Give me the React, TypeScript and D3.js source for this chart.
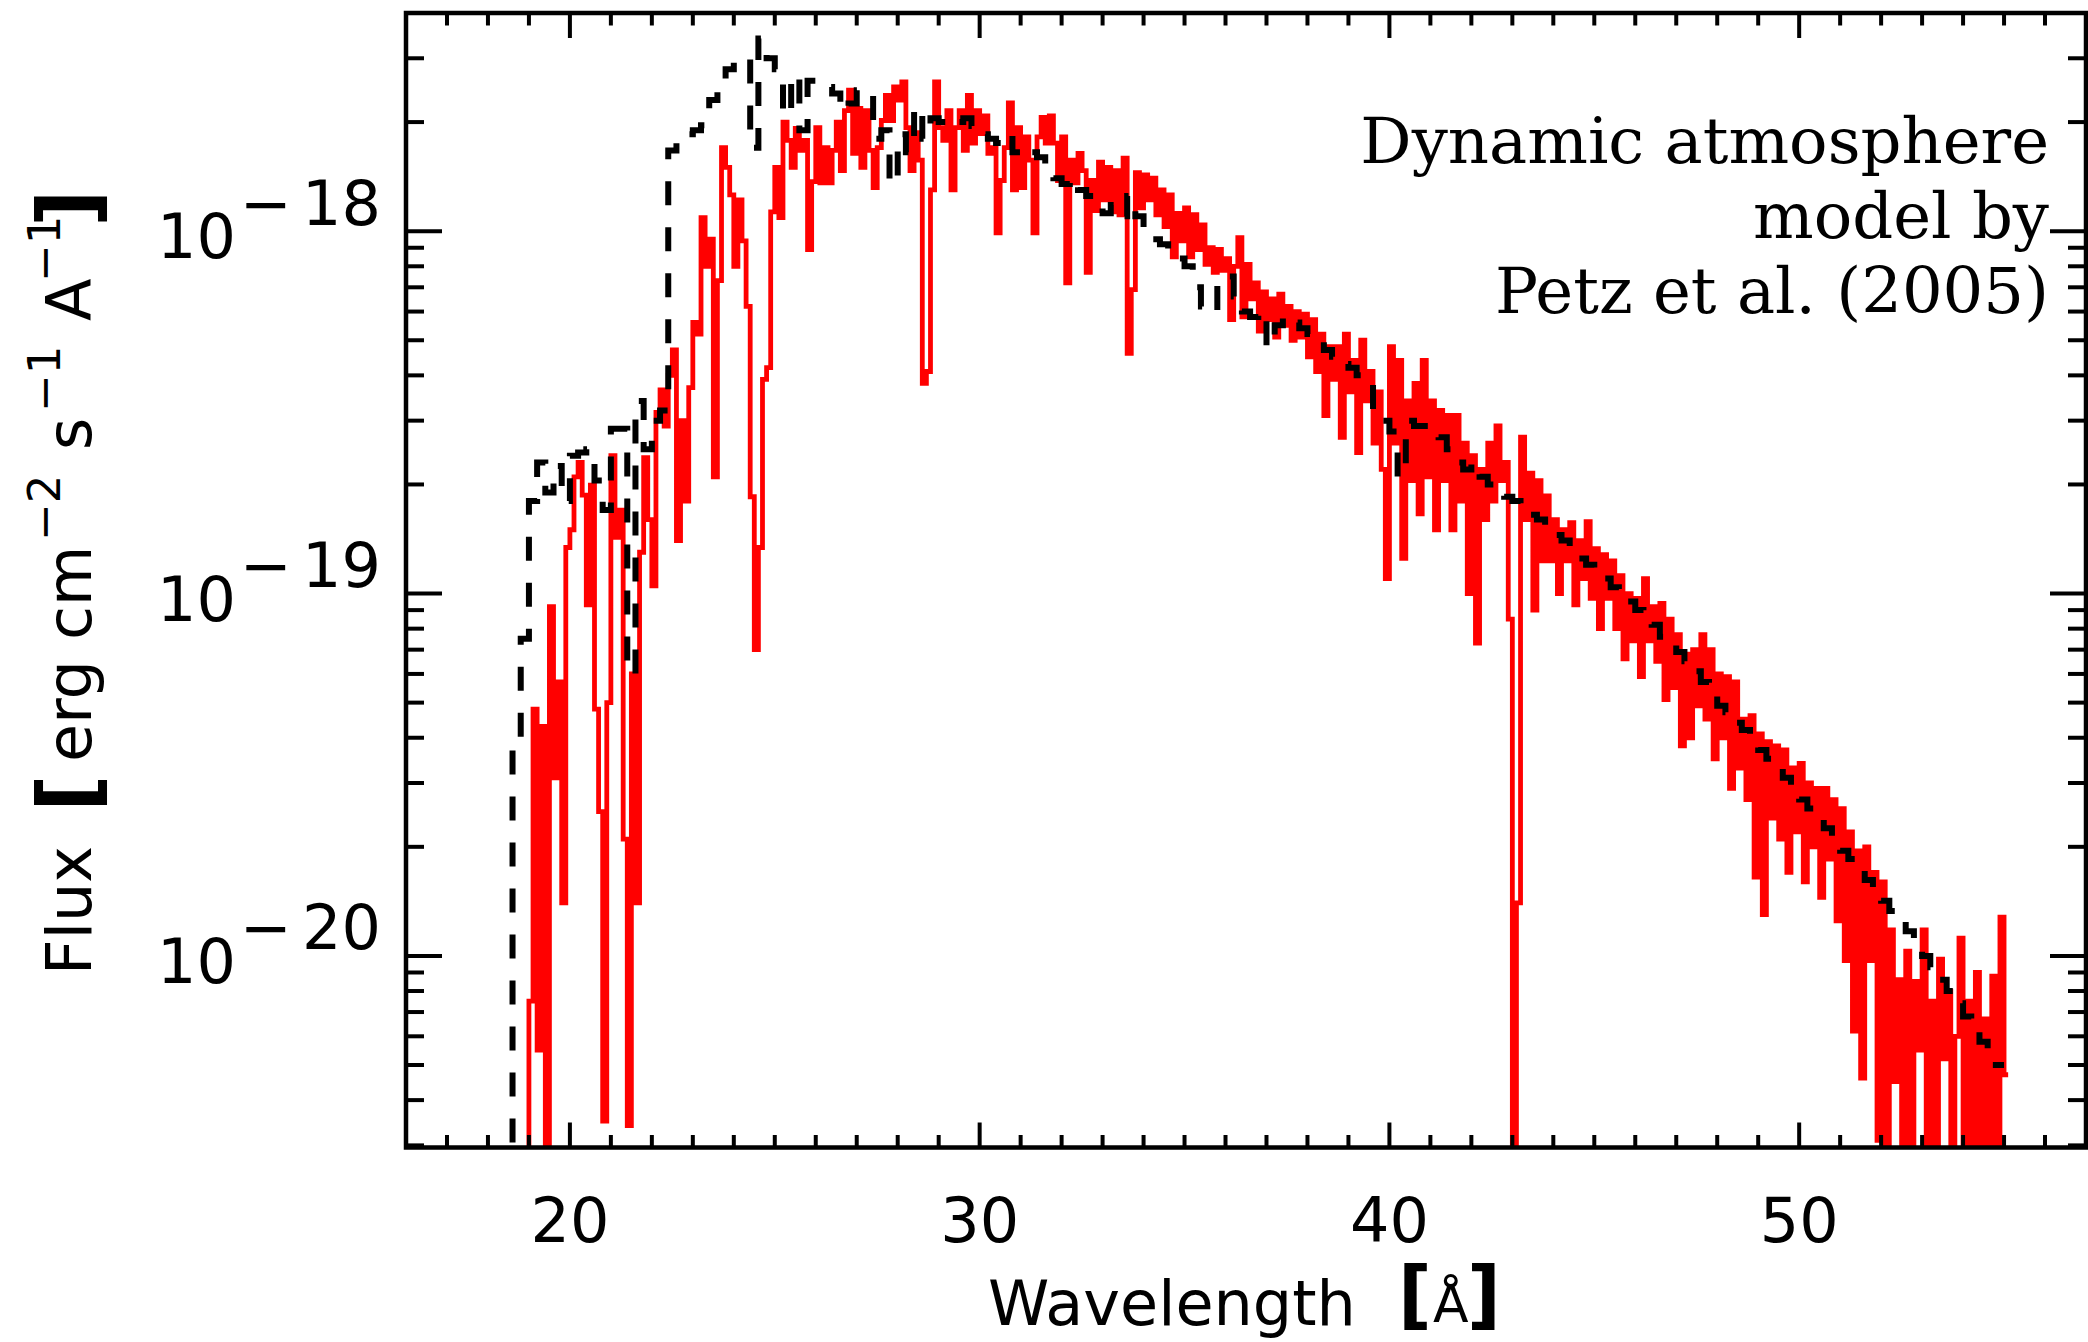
import React from 'react';
import * as d3 from 'd3';

// ---------------- data (flux in units of 1e-20 erg cm^-2 s^-1 A^-1) ----------------
const FLUX_UNIT = 1e-20;

// observed spectrum (red histogram), bins of 0.1 A starting at 18.9 A
const OBS_START = 18.9;
const OBS_BIN = 0.1;
const obsFlux = [
  0.1,
  0.75, 4.8, 0.55, 4.3, 0.15, 9.2, 3.1, 5.7, 1.4, 13.4,
  15, 21, 23, 18.7, 9.3, 19.9, 4.8, 2.5, 0.35, 5.0,
  24, 14.3, 17, 2.1, 0.34, 6.0, 1.4, 13, 23.7, 16,
  10.5, 31.6, 36.5, 29, 40, 47, 14, 30, 18, 37,
  56, 52, 109, 80, 95, 21, 73, 170, 150, 126,
  80, 122, 94, 62, 18.5, 7.0, 13.4, 39, 42, 113,
  150, 109, 200, 178, 150, 192, 167, 178, 89, 137,
  193, 136, 170, 136, 167, 200, 147, 215, 245, 164,
  218, 150, 215, 167, 132, 170, 202, 237, 202, 250,
  230, 258, 193, 147, 187, 157, 38, 41, 130, 258,
  193, 178, 215, 130, 193, 215, 167, 237, 175, 215,
  186, 208, 164, 170, 99, 138, 170, 226, 130, 193,
  132, 182, 157, 99, 182, 206, 175, 208, 175, 138,
  182, 72, 157, 136, 164, 147, 77, 138, 114, 155,
  122, 150, 113, 147, 111, 159, 46, 69, 145, 116,
  143, 122, 140, 111, 130, 103, 126, 85, 112, 94,
  116, 85, 111, 89, 104, 81, 90, 77, 89, 78,
  84, 57, 80, 96, 58, 81, 65, 72, 53, 68,
  57, 65, 51, 67, 55, 62, 50, 60, 51, 59,
  45, 57, 41, 52, 31, 48, 39, 48, 27, 52,
  36, 44, 24.5, 50, 34, 41, 26, 36, 22, 11,
  48, 26, 44, 12.5, 34, 20.5, 38, 16.6, 44, 21,
  34, 15, 32, 20.5, 31, 15, 31, 18, 26, 10,
  24, 7.3, 22, 16, 26, 18, 29, 20.5, 23, 8.5,
  0.2, 1.4, 27, 16, 21.5, 9, 20.5, 12.3, 18.6, 12.3,
  16, 10, 15, 12.3, 15.7, 9.3, 14, 11, 15.8, 9.7,
  13.3, 8, 12.8, 9.7, 12.3, 8, 11.2, 6.6, 10, 7.4,
  9.7, 5.9, 11, 7.4, 9.2, 6.5, 9.4, 5.1, 8.5, 5.5,
  7.7, 3.8, 6.8, 4.0, 7.0, 4.9, 7.7, 4.5, 7.0, 3.5,
  6.0, 4.0, 5.9, 2.9, 5.7, 3.3, 4.5, 2.7, 4.6, 1.65,
  4.1, 1.3, 3.9, 2.4, 3.8, 2.1, 3.7, 1.7, 3.3, 2.2,
  3.4, 1.6, 3.0, 2.0, 2.9, 1.45, 2.9, 1.85, 2.7, 1.25,
  2.55, 0.97, 2.2, 0.62, 1.95, 0.46, 2.0, 0.97, 1.7, 0.31,
  1.6, 0.2, 1.18, 0.45, 0.86, 0.2, 1.03, 0.25, 0.85, 0.55,
  1.18, 0.2, 0.75, 0.3, 0.98, 0.52, 0.8, 0.2, 0.6, 1.12,
  0.22, 0.75, 0.25, 0.9, 0.2, 0.67, 0.25, 0.88, 0.3, 1.28,
  0.47,
];

// dynamic atmosphere model (black dashed histogram), bins of 0.2 A starting at 18.4 A
const MODEL_START = 18.4;
const MODEL_BIN = 0.2;
const modelFlux = [
  0.1, 3.7, 7.5, 18, 23, 19, 22.5, 18,
  24, 24.5, 25, 20.5, 17,
  28.5, 28.5, 6, 34, 25,
  30, 32, 167, 178, 185,
  190, 196, 230, 260, 280,
  293, 300, 170, 340, 300,
  280, 209, 270, 190, 260,
  255, 250, 240, 215, 225,
  245, 245, 180, 190, 135,
  185, 165, 220, 180, 205,
  200, 205, 200, 205, 195,
  185, 180, 175, 185, 165,
  160, 165, 160, 150, 140,
  135, 140, 130, 125, 120,
  112, 118, 110, 125, 110,
  100, 95, 92, 88, 84,
  80, 70, 62, 60, 72,
  75, 66, 60, 58, 60,
  48, 55, 58, 56, 54,
  52, 50, 47, 45, 43,
  42, 40, 38, 31, 30,
  28, 21, 30, 29, 29,
  28, 27, 25, 23, 22,
  23, 21, 20, 19, 18.5,
  18, 17.5, 16.5, 16, 15,
  14.5, 14, 13.2, 12.5, 12,
  11.5, 11, 10.4, 10, 9.5,
  9.0, 8.5, 8.2, 7.6, 7.2,
  6.9, 6.5, 6.1, 5.7, 5.3,
  4.9, 4.7, 4.4, 4.2, 3.9,
  3.7, 3.5, 3.3, 3.1, 2.9,
  2.7, 2.55, 2.4, 2.25, 2.1,
  1.95, 1.85, 1.75, 1.62, 1.5,
  1.42, 1.33, 1.25, 1.17, 1.08,
  1.0, 0.93, 0.86, 0.8, 0.74,
  0.68, 0.63, 0.58, 0.54, 0.5,
];

const X_DOMAIN = [16, 57];
const Y_DOMAIN = [2.96e-21, 4.0e-18];
const xMajorTicks = [20, 30, 40, 50];
const yDecades = [-18, -19, -20];
const annotationLines = ['Dynamic atmosphere', 'model by', 'Petz et al. (2005)'];

// ---------------- layout ----------------
const W = 2088;
const H = 1342;
const P = { left: 406, right: 2086, top: 13, bottom: 1147.5 };
const SANS = '"DejaVu Sans", sans-serif';
const SERIF = '"DejaVu Serif", serif';

function histPoints(start: number, bin: number, vals: number[]) {
  const pts: [number, number][] = vals.map((v, i) => [start + i * bin, v * FLUX_UNIT]);
  pts.push([start + vals.length * bin, vals[vals.length - 1] * FLUX_UNIT]);
  return pts;
}

export default function App() {
  const x = d3.scaleLinear().domain(X_DOMAIN).range([P.left, P.right]);
  const y = d3.scaleLog().domain(Y_DOMAIN).range([P.bottom, P.top]);

  const line = d3
    .line<[number, number]>()
    .x((d) => x(d[0]))
    .y((d) => y(d[1]))
    .curve(d3.curveStepAfter);

  const obsPath = line(histPoints(OBS_START, OBS_BIN, obsFlux)) || '';
  const modelPath = line(histPoints(MODEL_START, MODEL_BIN, modelFlux)) || '';

  const xMinor = d3.range(Math.ceil(X_DOMAIN[0]) + 1, X_DOMAIN[1]).filter((v) => !xMajorTicks.includes(v));
  const isDecade = (v: number) => Math.abs(Math.log10(v) - Math.round(Math.log10(v))) < 1e-6;
  const yAll = y.ticks();
  const yMinor = yAll.filter((v) => !isDecade(v) && v >= Y_DOMAIN[0] && v <= Y_DOMAIN[1]);

  const XMAJ = 25, XMIN = 12.5, YMAJ = 36, YMIN = 18;

  return (
    <svg
      width={W}
      height={H}
      viewBox={`0 0 ${W} ${H}`}
      style={{ position: 'absolute', left: 0, top: 0, display: 'block', background: '#fff' }}
    >
      <rect x={0} y={0} width={W} height={H} fill="#fff" />
      <defs>
        <clipPath id="plotclip">
          <rect x={P.left} y={P.top} width={P.right - P.left} height={P.bottom - P.top} />
        </clipPath>
      </defs>

      <g clipPath="url(#plotclip)">
        <path d={obsPath} fill="none" stroke="#ff0000" strokeWidth={4.8} strokeLinejoin="miter" />
        <path d={modelPath} fill="none" stroke="#000" strokeWidth={6} strokeDasharray="24 22" />
      </g>

      {/* frame */}
      <rect
        x={P.left}
        y={P.top}
        width={P.right - P.left}
        height={P.bottom - P.top}
        fill="none"
        stroke="#000"
        strokeWidth={4.5}
      />

      {/* x ticks (bottom & top) */}
      {xMajorTicks.map((v) => (
        <g key={'xM' + v} stroke="#000" strokeWidth={4}>
          <line x1={x(v)} x2={x(v)} y1={P.bottom} y2={P.bottom - XMAJ} />
          <line x1={x(v)} x2={x(v)} y1={P.top} y2={P.top + XMAJ} />
        </g>
      ))}
      {xMinor.map((v) => (
        <g key={'xm' + v} stroke="#000" strokeWidth={4}>
          <line x1={x(v)} x2={x(v)} y1={P.bottom} y2={P.bottom - XMIN} />
          <line x1={x(v)} x2={x(v)} y1={P.top} y2={P.top + XMIN} />
        </g>
      ))}

      {/* y ticks (left & right) */}
      {yDecades.map((e) => {
        const yy = y(Math.pow(10, e));
        return (
          <g key={'yM' + e} stroke="#000" strokeWidth={4}>
            <line x1={P.left} x2={P.left + YMAJ} y1={yy} y2={yy} />
            <line x1={P.right} x2={P.right - YMAJ} y1={yy} y2={yy} />
          </g>
        );
      })}
      {yMinor.map((v, i) => {
        const yy = y(v);
        return (
          <g key={'ym' + i} stroke="#000" strokeWidth={4}>
            <line x1={P.left} x2={P.left + YMIN} y1={yy} y2={yy} />
            <line x1={P.right} x2={P.right - YMIN} y1={yy} y2={yy} />
          </g>
        );
      })}

      {/* x tick labels */}
      {xMajorTicks.map((v) => (
        <text key={'xl' + v} x={x(v)} y={1241.5} textAnchor="middle" fontFamily={SANS} fontSize={62} fill="#000">
          {v}
        </text>
      ))}

      {/* y tick labels: 10^-n */}
      {yDecades.map((e) => {
        const yy = y(Math.pow(10, e));
        return (
          <g key={'yl' + e} fontFamily={SANS} fontSize={62} fill="#000">
            <text x={236} y={yy + 27} textAnchor="end">10</text>
            <text x={240} y={yy - 6.5}>{'\u2212'}</text>
            <text x={381} y={yy - 6.5} textAnchor="end">{String(Math.abs(e))}</text>
          </g>
        );
      })}

      {/* x axis title */}
      <g fontFamily={SANS} fill="#000">
        <text x={988} y={1325} fontSize={62}>Wavelength</text>
        <text x={1398} y={1320} fontSize={74} fontWeight="bold">[</text>
        <text x={1433} y={1322} fontSize={52}>{'\u00C5'}</text>
        <text x={1467} y={1320} fontSize={74} fontWeight="bold">]</text>
      </g>

      {/* y axis title */}
      <g transform="translate(91,969) rotate(-90)" fontFamily={SANS} fill="#000">
        <text x={-6} y={0} fontSize={62}>Flux</text>
        <text x={157} y={5} fontSize={82} fontWeight="bold">[</text>
        <text x={207} y={0} fontSize={62}>erg</text>
        <text x={329} y={0} fontSize={62}>cm</text>
        <text x={428} y={-31} fontSize={45}>{'\u22122'}</text>
        <text x={519} y={0} fontSize={62}>s</text>
        <text x={557} y={-31} fontSize={45}>{'\u22121'}</text>
        <text x={648} y={0} fontSize={62}>A</text>
        <text x={687} y={-31} fontSize={45}>{'\u22121'}</text>
        <text x={742} y={5} fontSize={82} fontWeight="bold">]</text>
      </g>

      {/* annotation */}
      {annotationLines.map((t, i) => (
        <text
          key={'an' + i}
          x={2049}
          y={163 + i * 75}
          textAnchor="end"
          fontFamily={SERIF}
          fontSize={64}
          fill="#000"
        >
          {t}
        </text>
      ))}
    </svg>
  );
}
